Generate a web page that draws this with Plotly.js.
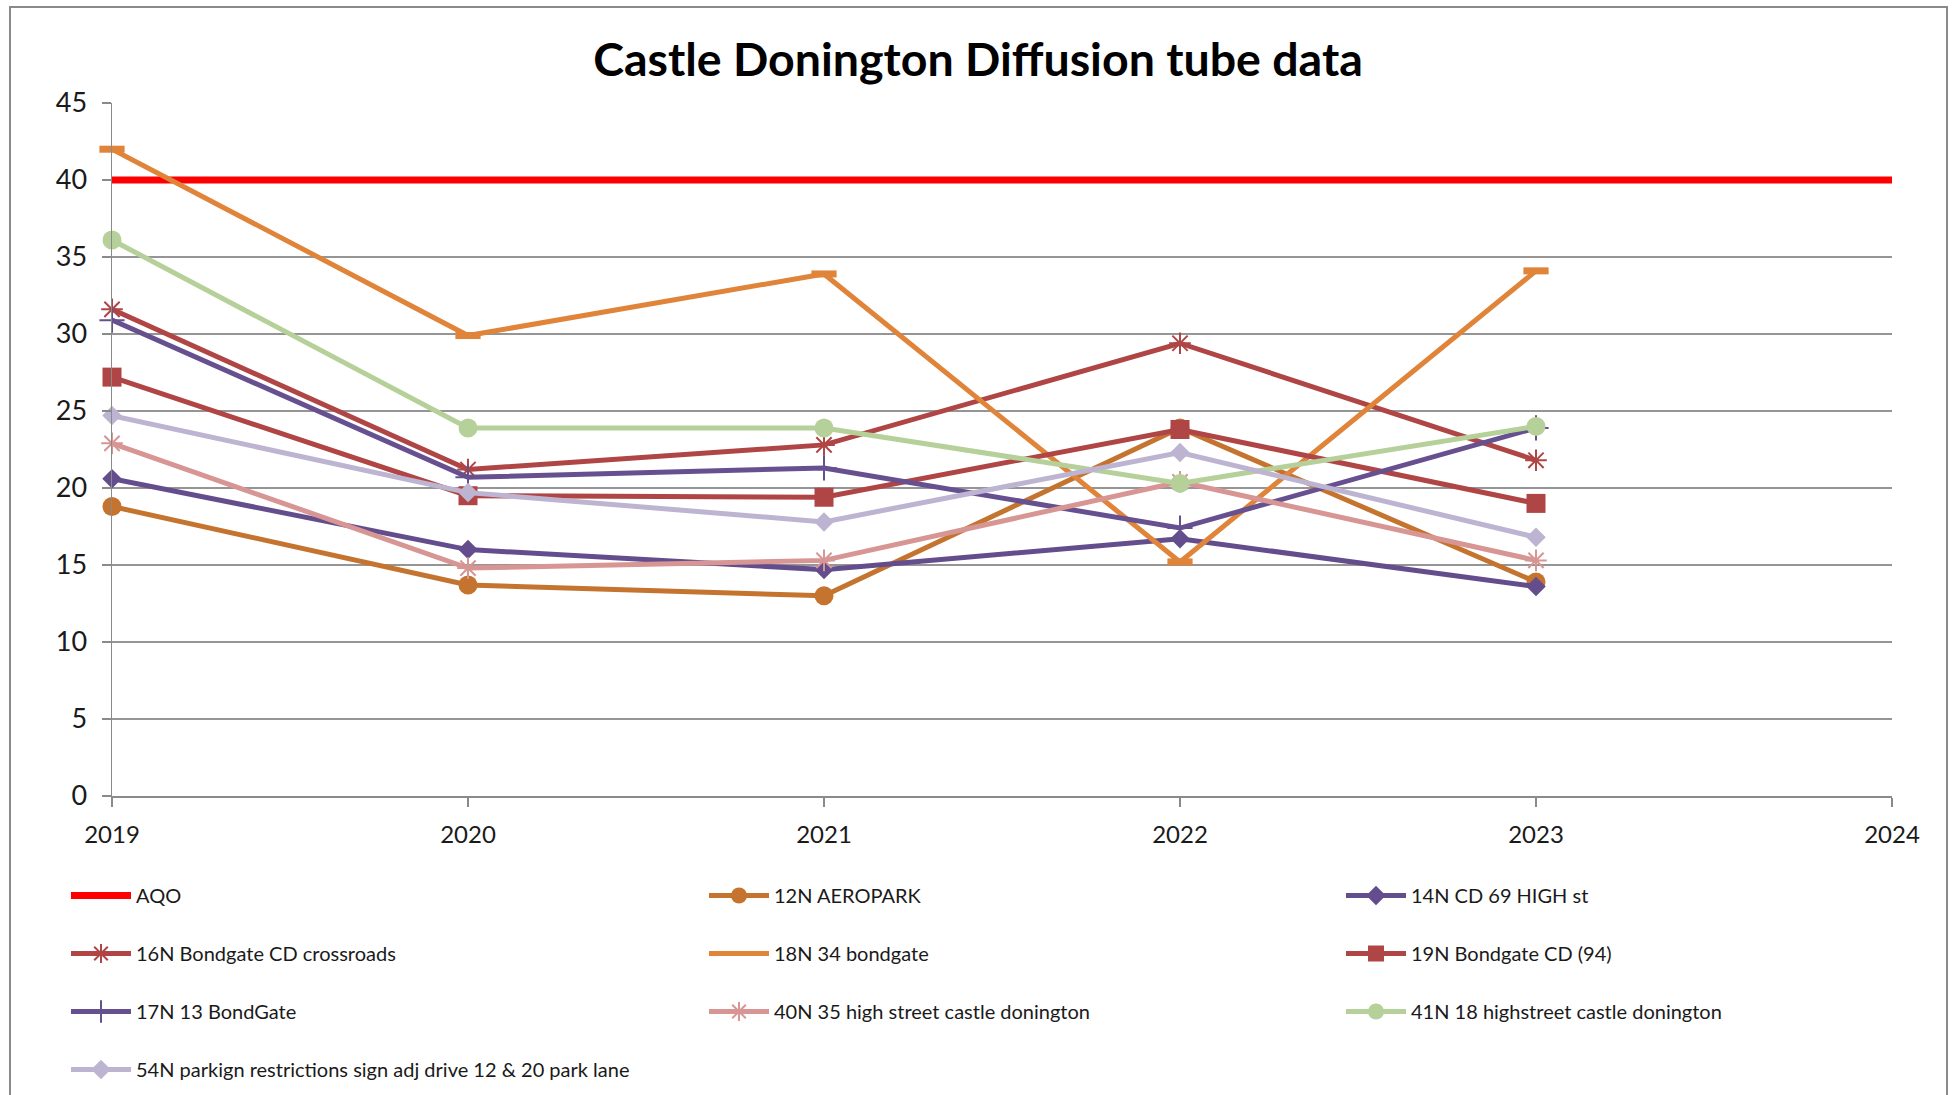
<!DOCTYPE html>
<html>
<head>
<meta charset="utf-8">
<script src="https://cdn.plot.ly/plotly-3.0.1.min.js"></script>
<style>
  html, body { margin: 0; padding: 0; background: #ffffff; }
  #chart { width: 1954px; height: 1095px; }
</style>
</head>
<body>
<div id="chart"></div>
<script>
// ---- Data ----
const years = [2019, 2020, 2021, 2022, 2023];
const aqoYears = [2019, 2020, 2021, 2022, 2023, 2024];
const aqo = [40, 40, 40, 40, 40, 40];
const aeropark12N = [18.8, 13.7, 13.0, 23.9, 13.9];
const high14N = [20.6, 16.0, 14.7, 16.7, 13.6];
const crossroads16N = [31.6, 21.2, 22.8, 29.4, 21.8];
const bondgate18N = [42.0, 29.9, 33.9, 15.2, 34.1];
const bondgate19N = [27.2, 19.5, 19.4, 23.8, 19.0];
const bondgate17N = [30.9, 20.7, 21.3, 17.4, 23.9];
const high40N = [22.9, 14.8, 15.3, 20.4, 15.3];
const high41N = [36.1, 23.9, 23.9, 20.3, 24.0];
const park54N = [24.7, 19.7, 17.8, 22.3, 16.8];

const seriesNames = [
  'AQO',
  '12N AEROPARK',
  '14N CD 69 HIGH st',
  '16N Bondgate CD crossroads',
  '18N 34 bondgate',
  '19N Bondgate CD (94)',
  '17N 13 BondGate',
  '40N 35 high street castle donington',
  '41N 18 highstreet castle donington',
  '54N parkign restrictions sign adj drive 12 & 20 park lane'
];
const xTickVals = [2019, 2020, 2021, 2022, 2023, 2024];

const FONT = 'Lato, "Open Sans", sans-serif';

function tr(name, x, y, color, lw, marker, legendId) {
  const t = {
    type: 'scatter', mode: marker ? 'lines+markers' : 'lines',
    name: name, x: x, y: y,
    line: { color: color, width: lw },
    cliponaxis: false,
    legend: legendId,
    legendgroup: name
  };
  if (marker) t.marker = marker;
  return t;
}

const LW = 5;
const data = [
  tr(seriesNames[0], aqoYears, aqo, '#FF0000', 7, null, 'legend'),
  tr(seriesNames[1], years, aeropark12N, '#C4742F', LW,
     { symbol: 'circle', size: 19, color: '#C4742F' }, 'legend2'),
  tr(seriesNames[2], years, high14N, '#634D8C', LW,
     { symbol: 'diamond', size: 15, color: '#634D8C' }, 'legend3'),
  tr(seriesNames[3], years, crossroads16N, '#B04545', LW,
     { symbol: 'asterisk-open', size: 18, color: '#B04545', line: { color: '#B04545', width: 2 } }, 'legend'),
  tr(seriesNames[4], years, bondgate18N, '#E0843A', LW,
     { symbol: 'line-ew-open', size: 18, color: '#E0843A', line: { color: '#E0843A', width: 7 } }, 'legend2'),
  tr(seriesNames[5], years, bondgate19N, '#B04545', LW,
     { symbol: 'square', size: 19, color: '#B04545' }, 'legend3'),
  tr(seriesNames[6], years, bondgate17N, '#66508F', LW,
     { symbol: 'cross-thin-open', size: 18, color: '#66508F', line: { color: '#66508F', width: 2 } }, 'legend'),
  tr(seriesNames[7], years, high40N, '#D79593', LW,
     { symbol: 'asterisk-open', size: 18, color: '#D79593', line: { color: '#D79593', width: 2 } }, 'legend2'),
  tr(seriesNames[8], years, high41N, '#B6D09A', LW,
     { symbol: 'circle', size: 19, color: '#B6D09A' }, 'legend3'),
  tr(seriesNames[9], years, park54N, '#BDB4D2', LW,
     { symbol: 'diamond', size: 15, color: '#BDB4D2' }, 'legend')
];

const L = 112, R = 62, T = 103, B = 299;
const W = 1954, H = 1095;
const pw = W - L - R, ph = H - T - B;
function px2x(p) { return (p - L) / pw; }
function py2y(p) { return (H - B - p) / ph; }

const legendCommon = {
  orientation: 'v', traceorder: 'grouped', tracegroupgap: 29,
  itemwidth: 60, bgcolor: 'rgba(0,0,0,0)', borderwidth: 0,
  font: { family: FONT, size: 20, color: '#1a1a1a' },
  xanchor: 'left', yanchor: 'top', itemclick: false, itemdoubleclick: false
};
const legY = py2y(876);

const layout = {
  width: W, height: H,
  margin: { l: L, r: R, t: T, b: B, autoexpand: false },
  paper_bgcolor: '#ffffff', plot_bgcolor: '#ffffff',
  font: { family: FONT, color: '#1a1a1a' },
  title: {
    text: '<b>Castle Donington Diffusion tube data</b>',
    font: { family: FONT, size: 46.5, color: '#000000' },
    xref: 'paper', x: px2x(978), xanchor: 'center',
    yref: 'container', y: 1 - 60 / H, yanchor: 'middle'
  },
  xaxis: {
    range: [2019, 2024], tickmode: 'array', tickvals: xTickVals,
    ticktext: xTickVals.map(String),
    showgrid: false, zeroline: false,
    showline: true, linecolor: '#8a8a8a', linewidth: 1.5,
    ticks: 'outside', ticklen: 9, tickcolor: '#8a8a8a', tickwidth: 1.5,
    ticklabelstandoff: 8,
    tickfont: { family: FONT, size: 24, color: '#1a1a1a' }
  },
  yaxis: {
    range: [0, 45], dtick: 5, tick0: 0,
    showgrid: true, gridcolor: '#959595', gridwidth: 1.5,
    zeroline: false, showline: true, linecolor: '#8a8a8a', linewidth: 1.5,
    ticks: 'outside', ticklen: 9, tickcolor: '#8a8a8a', tickwidth: 1.5,
    ticklabelstandoff: 9,
    tickfont: { family: FONT, size: 27, color: '#1a1a1a' }
  },
  showlegend: true,
  legend: Object.assign({}, legendCommon, { x: px2x(66), y: legY }),
  legend2: Object.assign({}, legendCommon, { x: px2x(704), y: legY }),
  legend3: Object.assign({}, legendCommon, { x: px2x(1341), y: legY }),
  shapes: [{
    type: 'rect', xref: 'paper', yref: 'paper', layer: 'below',
    x0: px2x(10), x1: px2x(1947), y0: py2y(1110), y1: py2y(7),
    line: { color: '#8a8a8a', width: 2 }, fillcolor: 'rgba(0,0,0,0)'
  }]
};

Plotly.newPlot('chart', data, layout, { displayModeBar: false, staticPlot: true });
</script>
</body>
</html>
